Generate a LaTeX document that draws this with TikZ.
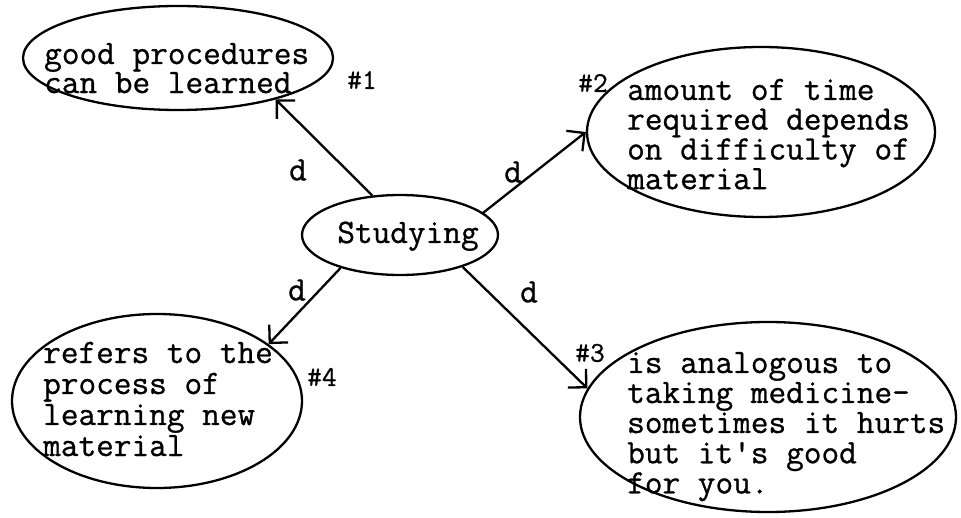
\documentclass[tikz,border=0pt]{standalone}
\usepackage{fontspec}
\setmonofont{Latin Modern Mono}[FakeBold=0.8]
\usetikzlibrary{shapes.geometric,arrows.meta}
\newcommand\txtblock[2]{{\fontsize{34.3}{#1}\selectfont\begin{tabular}[t]{@{}l@{}}#2\end{tabular}}}
\tikzset{
  ell/.style={draw, ellipse, line width=2.3pt, inner sep=0pt},
  txt/.style={anchor=base west, inner sep=0pt, font=\ttfamily},
  dlab/.style={inner sep=0pt, font=\ttfamily\fontsize{34.3}{34}\selectfont},
  hlab/.style={inner sep=0pt, font=\ttfamily\fontsize{28.6}{28}\selectfont},
  arr/.style={line width=2.3pt, -{Straight Barb[length=13pt,width=26pt]}}
}
\begin{document}
\begin{tikzpicture}[x=1pt,y=-1pt]
\useasboundingbox[fill=white] (0,0) rectangle (961,518);
% ellipses
\node[ell, minimum width=310pt, minimum height=104pt] (e1) at (178,58) {};
\node[ell, minimum width=348pt, minimum height=170pt] (e2) at (761,132) {};
\node[ell, minimum width=376pt, minimum height=190pt] (e3) at (768,417) {};
\node[ell, minimum width=290pt, minimum height=174pt] (e4) at (157,401) {};
\node[ell, minimum width=196pt, minimum height=80pt] (stud) at (400,235) {};
% texts
\node[txt] (t1) at (44,64) {\txtblock{27}{good procedures\\can be learned}};
\node[txt] (t2) at (627,100) {\txtblock{29}{amount of time\\required depends\\on difficulty of\\material}};
\node[txt] (t3) at (627,373) {\txtblock{30}{is analogous to\\taking medicine-\\sometimes it hurts\\but it's good\\for you.}};
\node[txt] (t4) at (43,363) {\txtblock{31}{refers to the\\process of\\learning new\\material}};
\node[txt, anchor=base] (ts) at (408,243) {\fontsize{34.3}{34}\selectfont Studying};
% connectors
\draw[arr] (stud.125) -- (e1.-23);
\draw[arr] (stud.15.5) -- (e2.180);
\draw[arr] (stud.-27.6) -- (e3.171);
\draw[arr] (stud.-151) -- (e4.27);
% labels
\node[dlab] (d1) at (298,170) {d};
\node[dlab] (d2) at (513,172) {d};
\node[dlab] (d3) at (529,292) {d};
\node[dlab] (d4) at (297,290) {d};
\node[hlab] (h1) at (362,80) {\#1};
\node[hlab] (h2) at (593,83) {\#2};
\node[hlab] (h3) at (590,353) {\#3};
\node[hlab] (h4) at (322,377) {\#4};
\end{tikzpicture}
\end{document}
